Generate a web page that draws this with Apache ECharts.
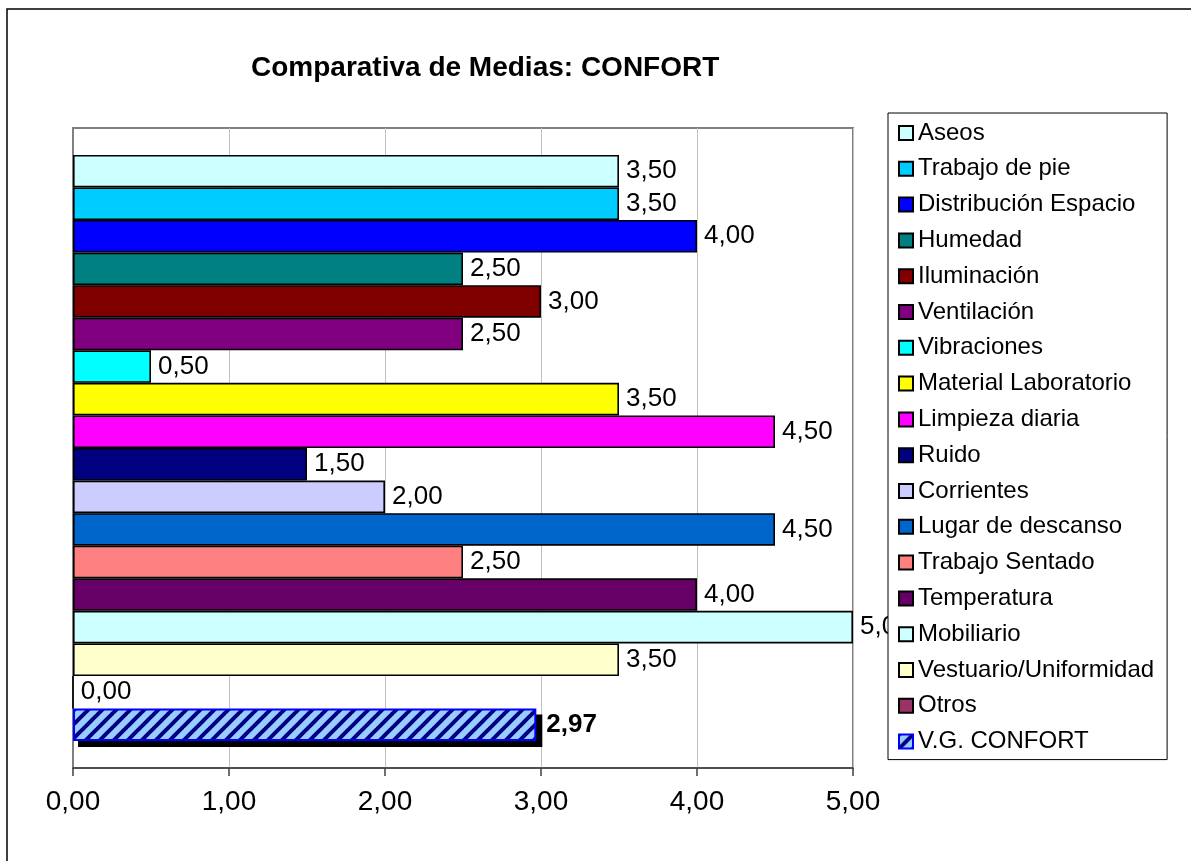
<!DOCTYPE html>
<html><head><meta charset="utf-8">
<script src="https://cdn.jsdelivr.net/npm/echarts@6/dist/echarts.min.js"></script>
<style>html,body{margin:0;padding:0;background:#fff}#c{width:1191px;height:861px}</style>
</head><body><div id="c"></div>
<script>
var seriesNames = ['Aseos','Trabajo de pie','Distribución Espacio','Humedad','Iluminación','Ventilación','Vibraciones','Material Laboratorio','Limpieza diaria','Ruido','Corrientes','Lugar de descanso','Trabajo Sentado','Temperatura','Mobiliario','Vestuario/Uniformidad','Otros','V.G. CONFORT'];
var seriesValues = [3.5,3.5,4.0,2.5,3.0,2.5,0.5,3.5,4.5,1.5,2.0,4.5,2.5,4.0,5.0,3.5,0.0,2.97];
var seriesColors = ['#CCFFFF','#00CCFF','#0000FF','#008080','#800000','#800080','#00FFFF','#FFFF00','#FF00FF','#000080','#CCCCFF','#0066CC','#FF8080','#660066','#CCFFFF','#FFFFCC','#993366','#99CCFF'];
var xTicks = [0,1,2,3,4,5];
var fmt = function(v){ return Number(v).toFixed(2).replace('.', ','); };
var FONT = '"Liberation Sans", Arial, sans-serif';
var CAT_GAP = 0.084;

// hatch pattern for the overall bar
function makeHatch(bg, fg){
  var N = 14, cv = document.createElement('canvas');
  cv.width = N; cv.height = N;
  var ctx = cv.getContext('2d');
  ctx.fillStyle = bg; ctx.fillRect(0, 0, N, N);
  ctx.strokeStyle = fg; ctx.lineWidth = 4;
  for (var k = -1; k <= 1; k++) {
    ctx.beginPath();
    ctx.moveTo(k * N - 1, N + 1); ctx.lineTo(k * N + N + 1, -1);
    ctx.stroke();
  }
  return cv;
}
var hatch = makeHatch('#99CCFF', '#000080');

var series = seriesNames.map(function(name, i){
  var isTotal = (i === seriesNames.length - 1);
  var s = {
    name: name, type: 'bar', barGap: '0%', barCategoryGap: (CAT_GAP * 100) + '%',
    data: [seriesValues[i]], z: 3,
    itemStyle: { color: seriesColors[i], borderColor: '#000', borderWidth: 1.6 },
    label: { show: true, position: 'right', distance: 7, formatter: function(p){ return fmt(p.value); },
      color: '#000', fontSize: 26, fontFamily: FONT }
  };
  if (isTotal) {
    s.itemStyle = { color: { image: hatch, repeat: 'repeat' }, borderColor: '#0000FF', borderWidth: 2 };
    s.label.fontWeight = 'bold'; s.label.fontSize = 26; s.label.distance = 10;
  }
  return s;
});

// drop shadow behind the overall ("V.G. CONFORT") bar, placed via the axes
var totalIdx = seriesNames.length - 1;
series.push({
  type: 'custom', z: 1, silent: true,
  data: [[seriesValues[totalIdx], 0]],
  encode: { x: 0, y: 1 },
  renderItem: function(params, api){
    var v = api.value(0);
    var c0 = api.coord([0, 0]);
    var c1 = api.coord([v, 0]);
    var band = api.size([0, 1])[1];
    var total = band * (1 - CAT_GAP);
    var each = total / seriesNames.length;
    var top = c0[1] - total / 2 + totalIdx * each;
    var off = 6;
    return { type: 'rect', shape: { x: c0[0] + 5, y: top + off, width: c1[0] - c0[0] + 1, height: each },
      style: { fill: '#000' } };
  }
});

var chart = echarts.init(document.getElementById('c'), null, {renderer: 'canvas'});
chart.setOption({
  animation: false,
  title: { text: 'Comparativa de Medias: CONFORT', left: 246, top: 49,
    textStyle: { fontFamily: FONT, fontWeight: 'bold', fontSize: 28, color: '#000' } },
  grid: { left: 73, right: 338, top: 128, bottom: 93, show: true, borderColor: '#808080', borderWidth: 2, backgroundColor: 'transparent' },
  xAxis: { type: 'value', min: 0, max: 5, interval: 1,
    axisLine: { show: true, lineStyle: { color: '#404040', width: 1.5 } },
    axisTick: { show: true, length: 8, lineStyle: { color: '#404040', width: 1.5 } },
    splitLine: { show: true, lineStyle: { color: '#C0C0C0', width: 1 } },
    axisLabel: { formatter: fmt, fontFamily: FONT, fontSize: 28, color: '#000', margin: 20 } },
  yAxis: { type: 'category', data: [''], inverse: true,
    axisLine: { show: true, lineStyle: { color: '#808080', width: 2 } },
    axisTick: { show: false }, axisLabel: { show: false }, splitLine: { show: false } },
  legend: { orient: 'vertical', left: 888, top: 113, data: seriesNames,
    backgroundColor: '#fff', borderColor: '#000', borderWidth: 1,
    padding: [8, 13, 6, 10], itemWidth: 14, itemHeight: 14, itemGap: 11.8,
    icon: 'rect', selectedMode: false,
    textStyle: { fontFamily: FONT, fontSize: 24, color: '#000', lineHeight: 24 } },
  graphic: [{ type: 'rect', shape: { x: 7, y: 9, width: 1400, height: 1000 }, style: { fill: 'none', stroke: '#000', lineWidth: 1.5 }, silent: true, z: 100 }],
  series: series
});
</script></body></html>
